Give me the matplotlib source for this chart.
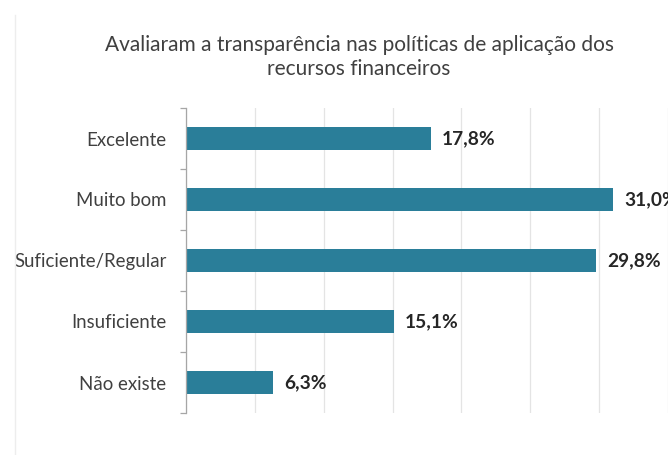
import matplotlib.pyplot as plt
from matplotlib.lines import Line2D

categorias = ['Excelente', 'Muito bom', 'Suficiente/Regular', 'Insuficiente', 'Não existe']
percentuais = [17.8, 31.0, 29.8, 15.1, 6.3]
rotulos = ['17,8%', '31,0%', '29,8%', '15,1%', '6,3%']
titulo = 'Avaliaram a transparência nas políticas de aplicação dos\nrecursos financeiros'

cor_barra = '#2A7E99'
plt.rcParams['font.family'] = ['Lato', 'DejaVu Sans']

fig = plt.figure(figsize=(6.68, 4.55), dpi=100)
ax = fig.add_axes([186 / 668, 1 - 413 / 455, 1 - 186 / 668, (413 - 108) / 455])

pos = list(range(len(categorias)))
ax.barh(pos, percentuais, height=0.38, color=cor_barra, zorder=2)
for y, v, txt in zip(pos, percentuais, rotulos):
    ax.annotate(txt, (v, y), xytext=(8, 0), textcoords='offset points',
                va='center', ha='left', fontsize=13.8, fontweight='bold',
                color='#262626', annotation_clip=False)

ax.set_xlim(0, 35)
ax.set_ylim(len(categorias) - 0.5, -0.5)
ax.set_xticks(range(0, 36, 5))
ax.xaxis.grid(True, color='#E4E4E4', linewidth=0.9, zorder=0)
ax.tick_params(axis='x', length=0, labelbottom=False)

ax.set_yticks(pos)
ax.set_yticklabels(categorias, fontsize=13.4, color='#404040')
ax.set_yticks([p - 0.5 for p in pos] + [len(pos) - 0.5], minor=True)
ax.tick_params(axis='y', which='major', length=0, pad=14)
ax.tick_params(axis='y', which='minor', length=4, color='#A6A6A6', width=0.9)

for lado in ['top', 'right', 'bottom']:
    ax.spines[lado].set_visible(False)
ax.spines['left'].set_color('#A6A6A6')
ax.spines['left'].set_linewidth(0.9)

fig.text(359 / 668, 1 - 57 / 455, titulo, ha='center', va='center',
         fontsize=15, color='#404040', linespacing=1.2)

# borda tenue do quadro do grafico
fig.add_artist(Line2D([15 / 668, 15 / 668], [0, 1 - 15 / 455],
                      transform=fig.transFigure, color='#EDEDED', linewidth=1))

fig.savefig('out.png', dpi=100)
